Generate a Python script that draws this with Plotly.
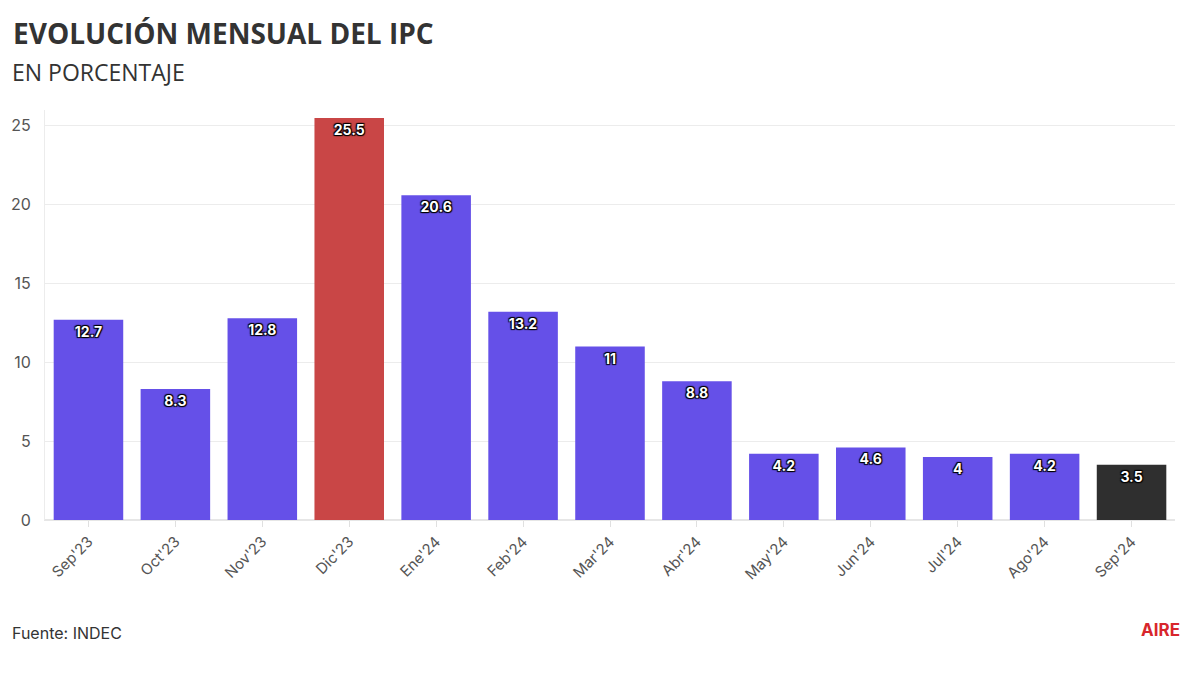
import plotly.graph_objects as go

categories = ["Sep'23", "Oct'23", "Nov'23", "Dic'23", "Ene'24", "Feb'24", "Mar'24",
              "Abr'24", "May'24", "Jun'24", "Jul'24", "Ago'24", "Sep'24"]
values = [12.7, 8.3, 12.8, 25.5, 20.6, 13.2, 11, 8.8, 4.2, 4.6, 4, 4.2, 3.5]
labels = ["12.7", "8.3", "12.8", "25.5", "20.6", "13.2", "11", "8.8", "4.2", "4.6", "4", "4.2", "3.5"]
colors = ["#6550E8"] * 3 + ["#C94646"] + ["#6550E8"] * 8 + ["#2F2F2F"]

W, H = 1200, 675
ML, MR, MT, MB = 45, 25, 110, 155

fig = go.Figure(go.Bar(
    x=categories, y=values, text=labels,
    marker=dict(color=colors, line=dict(width=0)),
    textposition="inside", insidetextanchor="end",
    textangle=0,
    textfont=dict(family="Inter", size=14, color="white", weight="bold",
                  shadow="1px 1px 1px #000, -1px -1px 1px #000, 1px -1px 1px #000, -1px 1px 1px #000"),
    cliponaxis=False,
))


def px_x(x):
    return (x - ML) / (W - ML - MR)


def px_y(y):
    return (H - y - MB) / (H - MT - MB)


fig.update_layout(
    width=W, height=H,
    paper_bgcolor="white", plot_bgcolor="white",
    margin=dict(l=ML, r=MR, t=MT, b=MB),
    bargap=0.2,
    showlegend=False,
    font=dict(family="Inter", color="#444"),
    xaxis=dict(
        tickangle=-45, tickfont=dict(size=15, color="#555"),
        showline=True, linecolor="#e6e6e6", linewidth=1,
        ticks="outside", ticklen=6, tickcolor="#e0e0e0",
        showgrid=False,
    ),
    yaxis=dict(
        range=[0, 26], tickvals=[0, 5, 10, 15, 20, 25],
        tickfont=dict(size=16, color="#555"),
        showgrid=True, gridcolor="#ececec", gridwidth=1,
        zeroline=True, zerolinecolor="#e6e6e6",
        showline=True, linecolor="#ececec", linewidth=1,
        ticks="outside", ticklen=10, tickcolor="rgba(0,0,0,0)",
    ),
    annotations=[
        dict(text="<b>EVOLUCIÓN MENSUAL DEL IPC</b>", x=px_x(11), y=px_y(33),
             xref="paper", yref="paper", showarrow=False, xanchor="left", yanchor="middle",
             font=dict(family="Open Sans", size=28, color="#333")),
        dict(text="EN PORCENTAJE", x=px_x(10), y=px_y(72),
             xref="paper", yref="paper", showarrow=False, xanchor="left", yanchor="middle",
             font=dict(family="Open Sans", size=23, color="#333")),
        dict(text="Fuente: INDEC", x=px_x(10), y=px_y(633),
             xref="paper", yref="paper", showarrow=False, xanchor="left", yanchor="middle",
             font=dict(family="Inter", size=16, color="#333")),
        dict(text="<b>AIRE</b>", x=px_x(1182), y=px_y(630),
             xref="paper", yref="paper", showarrow=False, xanchor="right", yanchor="middle",
             font=dict(family="Inter", size=17, color="#D8262C")),
    ],
)

fig.write_html("out.html", config={"displayModeBar": False},
               post_script="document.body.style.margin='0';")
